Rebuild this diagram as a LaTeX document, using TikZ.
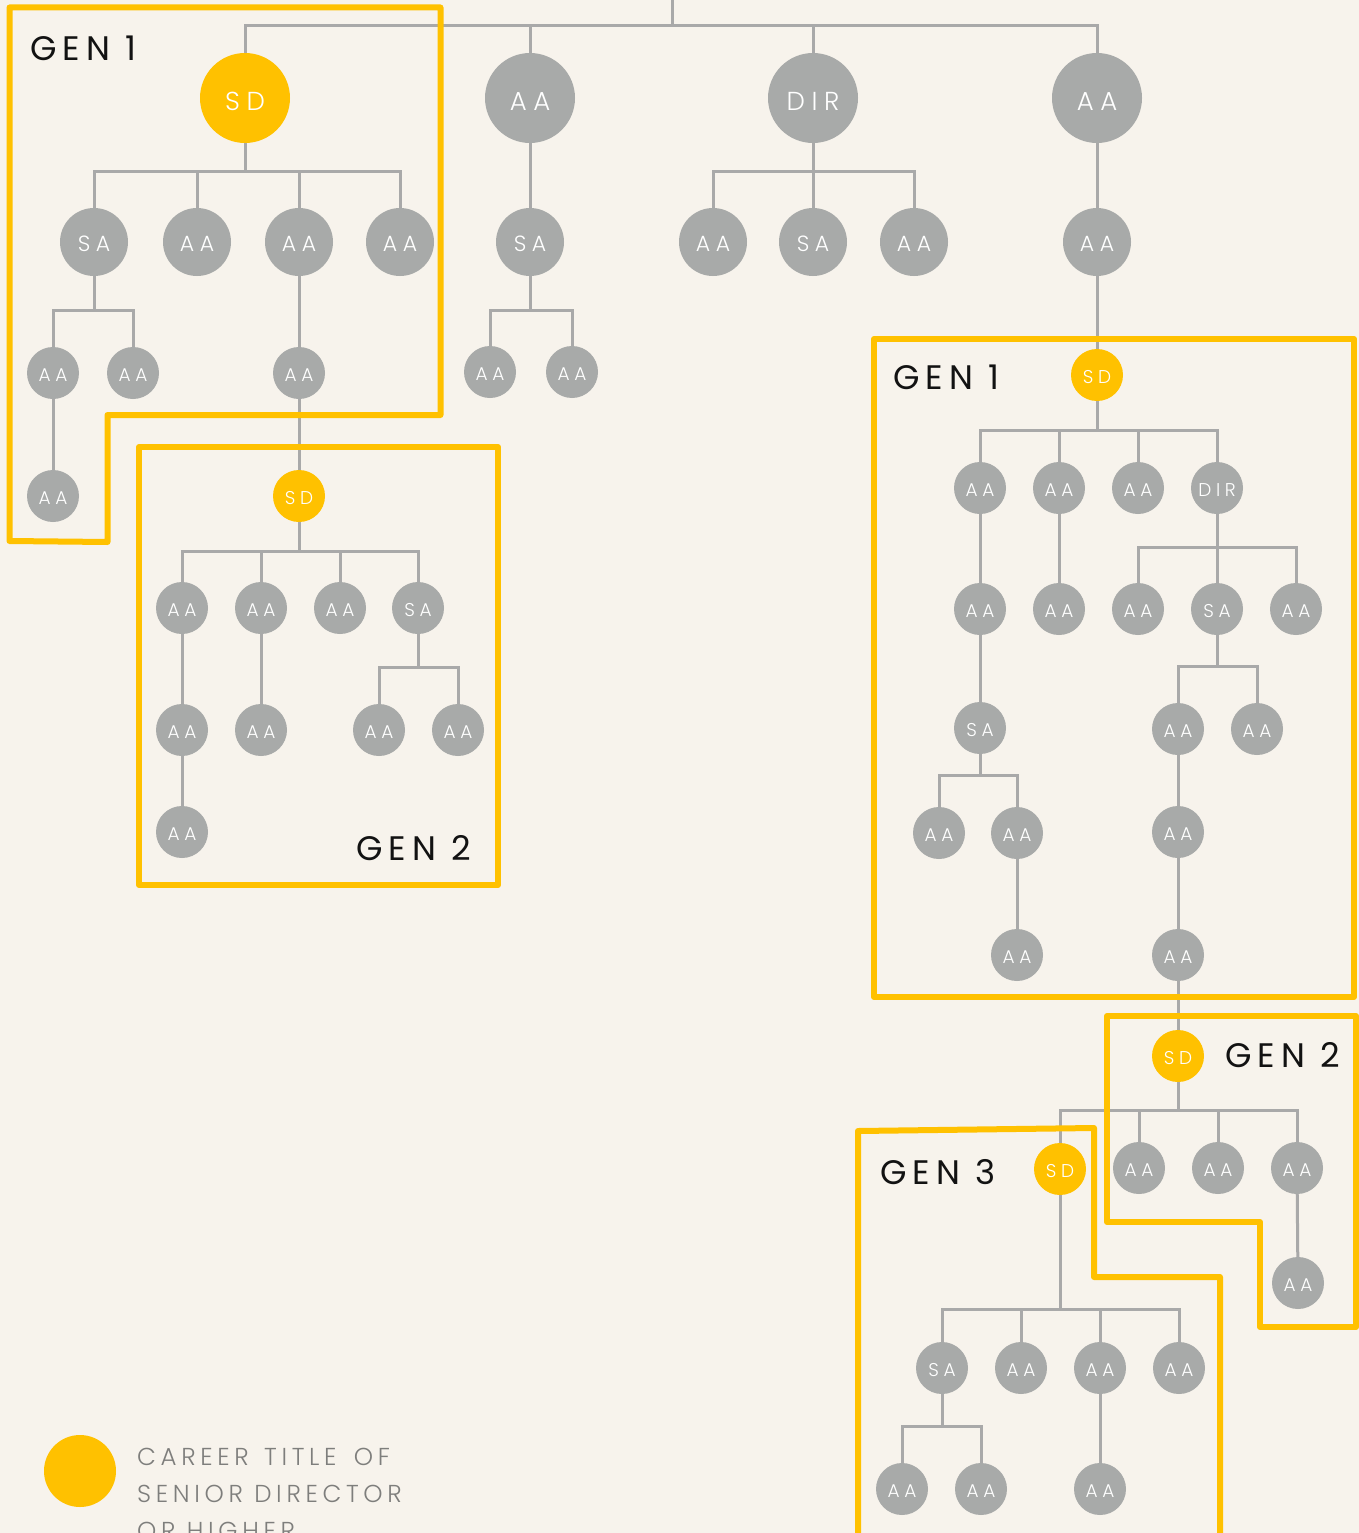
\documentclass[tikz,border=0pt]{standalone}
\usepackage{fontspec}
\newfontfamily\lblfont[LetterSpace=25]{Poppins Light}
\newfontfamily\legfont[LetterSpace=19]{Poppins Light}
\newfontfamily\genfont[LetterSpace=18]{Poppins}
\definecolor{bgc}{HTML}{F7F3EC}
\definecolor{nodegray}{HTML}{A8AAA9}
\definecolor{linegray}{HTML}{A9A9A9}
\definecolor{gold}{HTML}{FFC100}
\definecolor{legendgray}{HTML}{7E7E7C}
\tikzset{
  bignode/.style={circle,fill=nodegray,minimum size=90pt,inner sep=0pt,text=white,text height=24.5pt,text depth=0pt,font=\lblfont\fontsize{26}{26}\selectfont},
  mednode/.style={circle,fill=nodegray,minimum size=68pt,inner sep=0pt,text=white,text height=19.5pt,text depth=0pt,font=\lblfont\fontsize{22}{22}\selectfont},
  smallnode/.style={circle,fill=nodegray,minimum size=52pt,inner sep=0pt,text=white,text height=16pt,text depth=0pt,font=\lblfont\fontsize{18.5}{18.5}\selectfont},
  yel/.style={fill=gold},
  conn/.style={draw=linegray,line width=3pt},
  genbox/.style={draw=gold,line width=6pt,line join=round},
  genlabel/.style={inner sep=0pt,font=\genfont\fontsize{34}{34}\selectfont,text=black!93},
  legendtext/.style={inner sep=0pt,font=\legfont\fontsize{24.5}{24.5}\selectfont,text=legendgray,anchor=base west},
}
\begin{document}
\begin{tikzpicture}[x=1pt,y=-1pt]
\useasboundingbox (0,0) rectangle (1359,1533);
\fill[bgc] (0,0) rectangle (1359,1533);
\clip (0,0) rectangle (1359,1533);

% level 1
\node[bignode,yel] (sdA) at (245,98) {SD};
\node[bignode] (aa1) at (530,98) {AA};
\node[bignode] (dir1) at (813,98) {DIR};
\node[bignode] (aa2) at (1097,98) {AA};

% left subtree
\node[mednode] (sa1) at (94,242) {SA};
\node[mednode] (aa3) at (197,242) {AA};
\node[mednode] (aa4) at (299,242) {AA};
\node[mednode] (aa5) at (400,242) {AA};
\node[smallnode] (aa6) at (53,373) {AA};
\node[smallnode] (aa7) at (133,373) {AA};
\node[smallnode] (aa8) at (53,496) {AA};
\node[smallnode] (aa9) at (299,373) {AA};
\node[smallnode,yel] (sdB) at (299,496) {SD};
\node[smallnode] (aa10) at (182,608) {AA};
\node[smallnode] (aa11) at (261,608) {AA};
\node[smallnode] (aa12) at (340,608) {AA};
\node[smallnode] (sa2) at (418,608) {SA};
\node[smallnode] (aa13) at (182,730) {AA};
\node[smallnode] (aa14) at (182,832) {AA};
\node[smallnode] (aa15) at (261,730) {AA};
\node[smallnode] (aa16) at (379,730) {AA};
\node[smallnode] (aa17) at (458,730) {AA};

% middle subtrees
\node[mednode] (sa3) at (530,242) {SA};
\node[smallnode] (aa18) at (490,372) {AA};
\node[smallnode] (aa19) at (572,372) {AA};
\node[mednode] (aa20) at (713,242) {AA};
\node[mednode] (sa4) at (813,242) {SA};
\node[mednode] (aa21) at (914,242) {AA};

% right subtree
\node[mednode] (aa22) at (1097,242) {AA};
\node[smallnode,yel] (sdC) at (1097,375) {SD};
\node[smallnode] (aa23) at (980,488) {AA};
\node[smallnode] (aa24) at (1059,488) {AA};
\node[smallnode] (aa25) at (1138,488) {AA};
\node[smallnode] (dir2) at (1217,488) {DIR};
\node[smallnode] (aa26) at (980,609) {AA};
\node[smallnode] (sa5) at (980,728) {SA};
\node[smallnode] (aa27) at (939,833) {AA};
\node[smallnode] (aa28) at (1017,833) {AA};
\node[smallnode] (aa29) at (1017,955) {AA};
\node[smallnode] (aa30) at (1059,609) {AA};
\node[smallnode] (aa31) at (1138,609) {AA};
\node[smallnode] (sa6) at (1217,609) {SA};
\node[smallnode] (aa32) at (1296,609) {AA};
\node[smallnode] (aa33) at (1178,729) {AA};
\node[smallnode] (aa34) at (1257,729) {AA};
\node[smallnode] (aa35) at (1178,832) {AA};
\node[smallnode] (aa36) at (1178,955) {AA};
\node[smallnode,yel] (sdD) at (1178,1056) {SD};
\node[smallnode,yel] (sdE) at (1060,1169) {SD};
\node[smallnode] (aa37) at (1139,1168) {AA};
\node[smallnode] (aa38) at (1218,1168) {AA};
\node[smallnode] (aa39) at (1297,1168) {AA};
\node[smallnode] (aa40) at (1298,1283) {AA};
\node[smallnode] (sa7) at (942,1368) {SA};
\node[smallnode] (aa41) at (1021,1368) {AA};
\node[smallnode] (aa42) at (1100,1368) {AA};
\node[smallnode] (aa43) at (1179,1368) {AA};
\node[smallnode] (aa44) at (902,1489) {AA};
\node[smallnode] (aa45) at (981,1489) {AA};
\node[smallnode] (aa46) at (1100,1489) {AA};

% bar coordinates
\coordinate (top) at (672,0);
\coordinate (rootbar) at (672,26);
\coordinate (barA) at (245,172);
\coordinate (barSA1) at (94,310);
\coordinate (barB) at (299,551);
\coordinate (barSA2) at (418,667);
\coordinate (barSA3) at (530,310);
\coordinate (barDIR1) at (813,172);
\coordinate (barC) at (1097,430);
\coordinate (barSA5) at (980,775);
\coordinate (barDIR2) at (1217,547);
\coordinate (barSA6) at (1217,666);
\coordinate (barD) at (1178,1110);
\coordinate (barE) at (1060,1309);
\coordinate (barSA7) at (942,1426);

% connectors
\draw[conn] (top) -- (rootbar);
\foreach \c in {sdA,aa1,dir1,aa2} \draw[conn] (rootbar) -| (\c.north);
\draw[conn] (sdA.south) -- (barA);
\foreach \c in {sa1,aa3,aa4,aa5} \draw[conn] (barA) -| (\c.north);
\draw[conn] (sa1.south) -- (barSA1);
\foreach \c in {aa6,aa7} \draw[conn] (barSA1) -| (\c.north);
\draw[conn] (aa6) -- (aa8);
\draw[conn] (aa4) -- (aa9);
\draw[conn] (aa9) -- (sdB);
\draw[conn] (sdB.south) -- (barB);
\foreach \c in {aa10,aa11,aa12,sa2} \draw[conn] (barB) -| (\c.north);
\draw[conn] (aa10) -- (aa13);
\draw[conn] (aa13) -- (aa14);
\draw[conn] (aa11) -- (aa15);
\draw[conn] (sa2.south) -- (barSA2);
\foreach \c in {aa16,aa17} \draw[conn] (barSA2) -| (\c.north);

\draw[conn] (aa1) -- (sa3);
\draw[conn] (sa3.south) -- (barSA3);
\foreach \c in {aa18,aa19} \draw[conn] (barSA3) -| (\c.north);
\draw[conn] (dir1.south) -- (barDIR1);
\foreach \c in {aa20,sa4,aa21} \draw[conn] (barDIR1) -| (\c.north);

\draw[conn] (aa2) -- (aa22);
\draw[conn] (aa22) -- (sdC);
\draw[conn] (sdC.south) -- (barC);
\foreach \c in {aa23,aa24,aa25,dir2} \draw[conn] (barC) -| (\c.north);
\draw[conn] (aa23) -- (aa26);
\draw[conn] (aa26) -- (sa5);
\draw[conn] (sa5.south) -- (barSA5);
\foreach \c in {aa27,aa28} \draw[conn] (barSA5) -| (\c.north);
\draw[conn] (aa28) -- (aa29);
\draw[conn] (aa24) -- (aa30);
\draw[conn] (dir2.south) -- (barDIR2);
\foreach \c in {aa31,sa6,aa32} \draw[conn] (barDIR2) -| (\c.north);
\draw[conn] (sa6.south) -- (barSA6);
\foreach \c in {aa33,aa34} \draw[conn] (barSA6) -| (\c.north);
\draw[conn] (aa33) -- (aa35);
\draw[conn] (aa35) -- (aa36);
\draw[conn] (aa36) -- (sdD);
\draw[conn] (sdD.south) -- (barD);
\foreach \c in {sdE,aa37,aa38,aa39} \draw[conn] (barD) -| (\c.north);
\draw[conn] (aa39) -- (aa40);
\draw[conn] (sdE.south) -- (barE);
\foreach \c in {sa7,aa41,aa42,aa43} \draw[conn] (barE) -| (\c.north);
\draw[conn] (sa7.south) -- (barSA7);
\foreach \c in {aa44,aa45} \draw[conn] (barSA7) -| (\c.north);
\draw[conn] (aa42) -- (aa46);

% generation boxes (drawn over the connectors)
\draw[genbox] (9.5,7.5) -- (440.5,7.5) -- (440.5,415) -- (107.5,415) -- (107.5,542) -- (9.5,541) -- cycle;
\draw[genbox] (139,447) rectangle (498,885);
\draw[genbox] (874,339) rectangle (1354,997);
\draw[genbox] (1107,1016) -- (1356,1016) -- (1356,1327) -- (1260,1327) -- (1260,1222) -- (1107,1222) -- cycle;
\draw[genbox] (858,1600) -- (858,1131) -- (1094,1128) -- (1094,1277) -- (1220,1277) -- (1220,1600);

% generation labels
\node[genlabel,anchor=base west] (g1a) at (30,61) {GEN 1};
\node[genlabel,anchor=base east] (g2a) at (471,860) {GEN 2};
\node[genlabel,anchor=base west] (g1b) at (893,389) {GEN 1};
\node[genlabel,anchor=base west] (g2b) at (1225,1067) {GEN 2};
\node[genlabel,anchor=base west] (g3) at (880,1184) {GEN 3};

% legend
\node[circle,fill=gold,minimum size=72pt,inner sep=0pt] (legdot) at (80,1471) {};
\node[legendtext] (leg1) at (137,1465) {CAREER\hspace{4pt} TITLE\hspace{6pt} OF};
\node[legendtext] (leg2) at (137,1502) {SENIOR DIRECTOR};
\node[legendtext] (leg3) at (137,1539) {OR HIGHER};
\end{tikzpicture}
\end{document}
